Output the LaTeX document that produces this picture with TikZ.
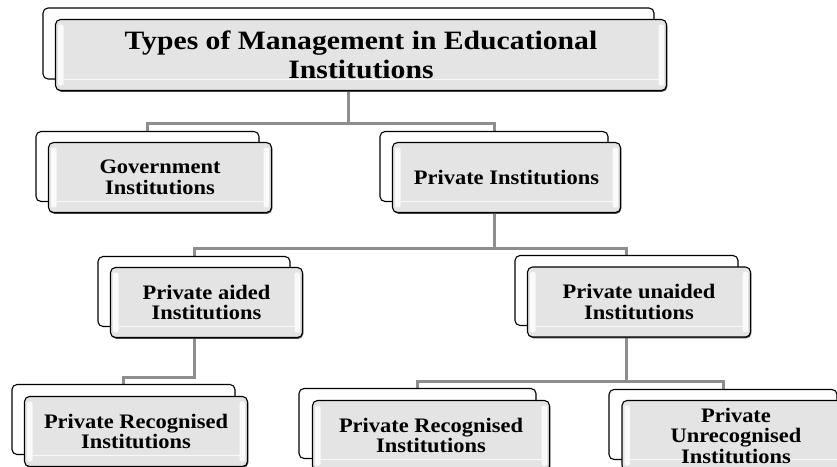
\documentclass[tikz,border=0pt]{standalone}
\usepackage{fontspec}
\setmainfont{Liberation Serif}
\newfontfamily\boxfont[FakeStretch=1.09]{Liberation Serif}
\newfontfamily\titlefont[FakeStretch=1.12]{Liberation Serif}
\usetikzlibrary{shadows,backgrounds}
\definecolor{conncol}{HTML}{8E8E8E}
\definecolor{boxfill}{HTML}{E4E4E4}
\tikzset{
  backbox/.style={draw=black, line width=1.1pt, fill=white, rounded corners=5pt,
    minimum height=70pt, inner sep=0pt},
  frontbox/.style={draw=black, line width=1.1pt, fill=boxfill, rounded corners=5pt,
    minimum height=70pt, inner sep=0pt, align=center,
    font=\boxfont\bfseries\fontsize{20.6pt}{20.5pt}\selectfont,
    drop shadow={shadow xshift=0.8pt, shadow yshift=-1.3pt, fill=black!70, opacity=1},
    path picture={
      \fill[white, opacity=0.85, rounded corners=2pt]
        ([xshift=2.5pt,yshift=-5pt]path picture bounding box.north west) rectangle
        ([xshift=8pt,yshift=5pt]path picture bounding box.south west);
      \fill[white, opacity=0.85, rounded corners=2pt]
        ([xshift=-2.5pt,yshift=-5pt]path picture bounding box.north east) rectangle
        ([xshift=-8pt,yshift=5pt]path picture bounding box.south east);
      \draw[white, line width=1pt, opacity=0.8]
        ([xshift=8pt,yshift=11pt]path picture bounding box.south west) --
        ([xshift=-8pt,yshift=11pt]path picture bounding box.south east);
    }},
  conn/.style={draw=conncol, line width=3pt},
}
\begin{document}
\begin{tikzpicture}[x=1pt, y=-1pt]
\useasboundingbox (0,0) rectangle (837,466);
% back boxes
\node[backbox, minimum width=611pt, minimum height=71pt] (topB) at (348.5,43.5) {};
\node[backbox, minimum width=223pt] (govB) at (147.5,166.5) {};
\node[backbox, minimum width=228pt] (privB) at (494,166.5) {};
\node[backbox, minimum width=192pt] (aidB) at (194,291.5) {};
\node[backbox, minimum width=223pt] (unaidB) at (626.5,290.5) {};
\node[backbox, minimum width=223pt] (pr1B) at (123.5,419.5) {};
\node[backbox, minimum width=237pt] (pr2B) at (417.5,423.5) {};
\node[backbox, minimum width=228pt] (puB) at (723,424.5) {};
% front boxes
\node[frontbox, minimum width=611pt, minimum height=71pt,
  font=\titlefont\bfseries\fontsize{26.5pt}{29pt}\selectfont]
  (top) at ([xshift=12.5pt,yshift=-11.5pt]topB.center)
  {Types of Management in Educational\\Institutions};
\node[frontbox, minimum width=223pt] (gov) at ([xshift=12.5pt,yshift=-11pt]govB.center)
  {Government\\Institutions};
\node[frontbox, minimum width=228pt] (priv) at ([xshift=12.5pt,yshift=-11pt]privB.center)
  {Private Institutions};
\node[frontbox, minimum width=192pt] (aid) at ([xshift=12.5pt,yshift=-11pt]aidB.center)
  {Private aided\\Institutions};
\node[frontbox, minimum width=223pt] (unaid) at ([xshift=12.5pt,yshift=-11.5pt]unaidB.center)
  {Private unaided\\Institutions};
\node[frontbox, minimum width=223pt] (pr1) at ([xshift=12.5pt,yshift=-12pt]pr1B.center)
  {Private Recognised\\Institutions};
\node[frontbox, minimum width=237pt] (pr2) at ([xshift=13.5pt,yshift=-12pt]pr2B.center)
  {Private Recognised\\Institutions};
\node[frontbox, minimum width=228pt] (pu) at ([xshift=13pt,yshift=-11pt]puB.center)
  {Private\\Unrecognised\\Institutions};
% connectors
\begin{pgfonlayer}{background}
\fill[white] (0,0) rectangle (837,466);
\coordinate (j1) at (topB.center |- 0,123);
\draw[conn] (topB.center) -- (j1) -| (govB.north);
\draw[conn] (j1) -| (privB.north);
\coordinate (j2) at (privB.center |- 0,248);
\draw[conn] (privB.center) -- (j2) -| (aidB.north);
\draw[conn] (j2) -| (unaidB.north);
\coordinate (j3) at (aidB.center |- 0,377);
\draw[conn] (aidB.center) -- (j3) -| (pr1B.north);
\coordinate (j4) at (unaidB.center |- 0,381);
\draw[conn] (unaidB.center) -- (j4) -| (pr2B.north);
\draw[conn] (j4) -| (puB.north);
\end{pgfonlayer}
\end{tikzpicture}
\end{document}
